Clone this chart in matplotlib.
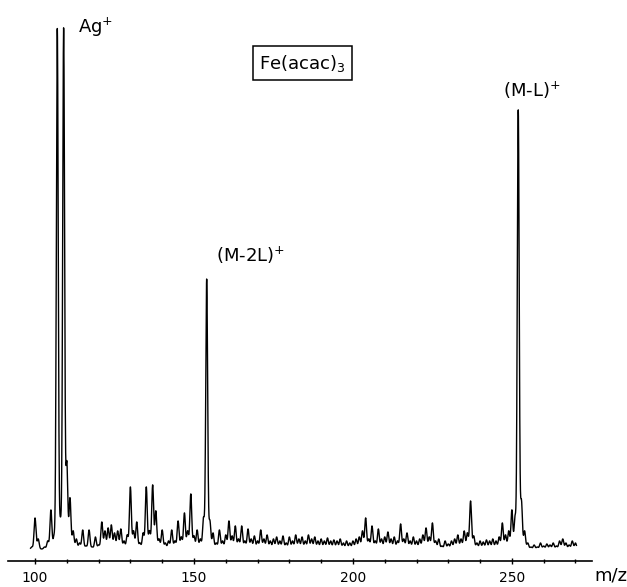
import numpy as np
import matplotlib
matplotlib.use('Agg')
import matplotlib.pyplot as plt

# spectrum: intensity (arbitrary units) at each integer m/z
mz_start = 99
intensity = [
    14, 43, 22, 12, 14, 20, 51, 25, 533, 40,          # 99-108
    533, 98, 63, 30, 22, 18, 31, 15, 31, 14,          # 109-118
    24, 16, 39, 30, 33, 36, 28, 30, 32, 20,           # 119-128
    26, 74, 30, 39, 18, 28, 74, 30, 76, 50,           # 129-138
    22, 31, 18, 20, 31, 20, 40, 24, 48, 30,           # 139-148
    67, 25, 31, 22, 43, 282, 40, 28, 18, 31,          # 149-158
    20, 26, 40, 25, 35, 22, 35, 20, 32, 22,           # 159-168
    25, 20, 31, 22, 26, 20, 22, 24, 20, 25,           # 169-178
    18, 24, 20, 26, 22, 24, 20, 26, 22, 24,           # 179-188
    20, 22, 20, 23, 20, 21, 20, 22, 18, 20,           # 189-198
    18, 20, 22, 24, 30, 43, 22, 35, 20, 32,           # 199-208
    22, 24, 29, 22, 24, 20, 37, 22, 28, 20,           # 209-218
    24, 20, 22, 26, 33, 24, 38, 20, 22, 15,           # 219-228
    20, 17, 20, 22, 26, 22, 30, 28, 60, 25,           # 229-238
    18, 20, 19, 21, 20, 22, 20, 24, 38, 26,           # 239-248
    30, 51, 44, 451, 60, 30, 18, 14, 16, 14,          # 249-258
    18, 15, 17, 16, 18, 15, 20, 22, 18, 16,           # 259-268
    20, 18,                                           # 269-270
]
mz = np.arange(mz_start, mz_start + len(intensity))

labels = ['Ag$^{+}$', '(M-2L)$^{+}$', '(M-L)$^{+}$']
label_mz = [118.9, 167.9, 256.3]
label_y = [534, 306, 471]

# peak profile: narrow gaussian per mass unit on a flat base
base = 12
x = np.linspace(mz[0] - 0.4, mz[-1] + 0.3, 4000)
y = np.full_like(x, base, dtype=float)
for m, h in zip(mz, intensity):
    y += (h - base) * np.exp(-0.5 * ((x - m) / 0.3) ** 2)

fig = plt.figure(figsize=(6.27, 5.87), dpi=100)
ax = fig.add_axes([8 / 627, 26 / 587, 584 / 627, 541 / 587])

ax.plot(x, y, color='black', lw=1.0)

ax.set_xlim(91.5, 275.2)
ax.set_ylim(0, 541)
for s in ['top', 'left', 'right']:
    ax.spines[s].set_visible(False)
ax.spines['bottom'].set_linewidth(1.2)
ax.set_yticks([])
ax.set_xticks([100, 150, 200, 250])
ax.set_xticks(np.arange(110, 271, 10), minor=True)
ax.tick_params(axis='x', which='both', direction='inout', length=4, width=1,
               labelsize=10, pad=5)
ax.tick_params(axis='x', which='minor', length=3)
ax.set_xticklabels(['100', '150', '200', '250'])

fig.text(611 / 627, 1 - 576 / 587, 'm/z', fontsize=13, ha='center', va='center')

for t, xm, yl in zip(labels, label_mz, label_y):
    ax.text(xm, yl, t, fontsize=13, ha='center', va='center')

ax.text(184, 498, 'Fe(acac)$_{3}$', fontsize=13, ha='center', va='center',
        bbox=dict(boxstyle='square,pad=0.35', fc='white', ec='black', lw=1.1))

plt.savefig('out.png', dpi=100)
